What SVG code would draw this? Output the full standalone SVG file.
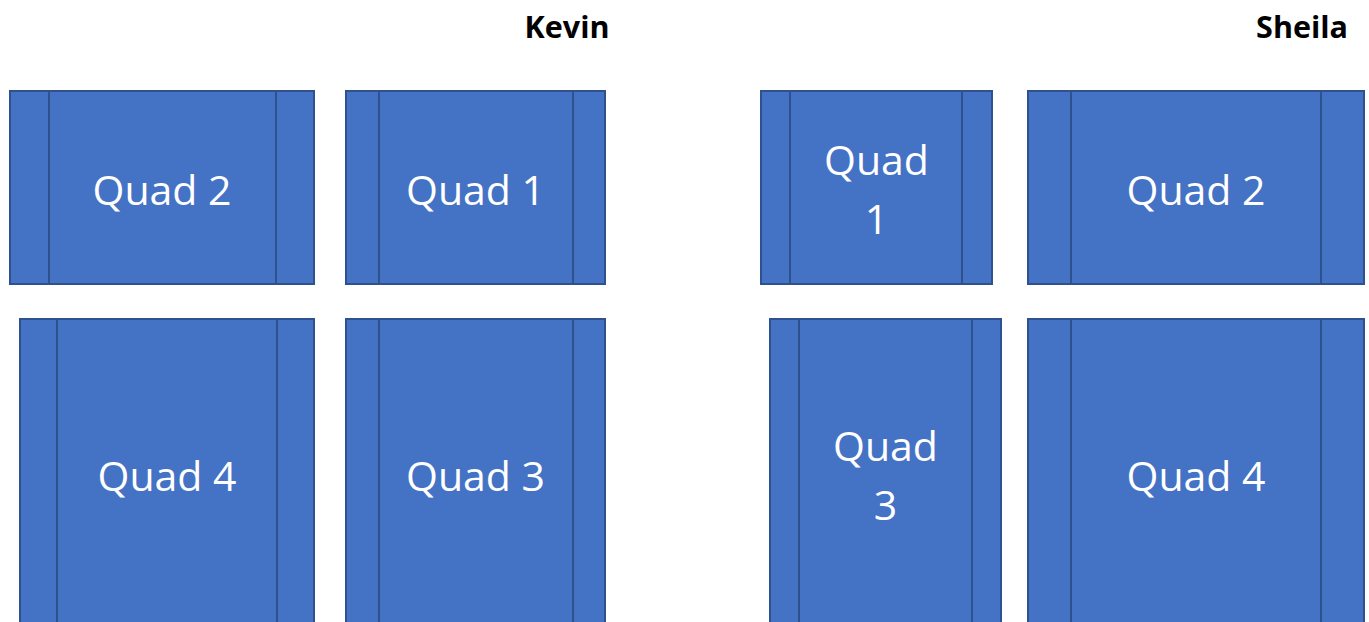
<svg xmlns="http://www.w3.org/2000/svg" width="1369" height="622" viewBox="0 0 1369 622">
<style>
.box{fill:#4472C4;stroke:#2F528F;stroke-width:2}
.div{stroke:#2F528F;stroke-width:2;fill:none}
.lbl{font-family:"Open Sans","Noto Sans",sans-serif;font-size:41px;fill:#FFFFFF;text-anchor:middle}
.name{font-family:"Open Sans","Noto Sans",sans-serif;font-size:30.5px;font-weight:bold;fill:#000000;text-anchor:end}
</style>
<rect width="1369" height="622" fill="#FFFFFF"/>
<g id="title-kevin"><text class="name" x="609.5" y="37.5">Kevin</text></g>
<g id="title-sheila"><text class="name" x="1348" y="37.5">Sheila</text></g>
<g id="kevin-quad2">
<rect class="box" x="10" y="91" width="304" height="193"/>
<line class="div" x1="49" y1="91" x2="49" y2="284"/>
<line class="div" x1="276" y1="91" x2="276" y2="284"/>
<text class="lbl" x="162" y="205">Quad 2</text>
</g>
<g id="kevin-quad1">
<rect class="box" x="346" y="91" width="259" height="193"/>
<line class="div" x1="379" y1="91" x2="379" y2="284"/>
<line class="div" x1="573" y1="91" x2="573" y2="284"/>
<text class="lbl" x="475.5" y="205">Quad 1</text>
</g>
<g id="kevin-quad4">
<rect class="box" x="20" y="319" width="294" height="320"/>
<line class="div" x1="57" y1="319" x2="57" y2="639"/>
<line class="div" x1="277" y1="319" x2="277" y2="639"/>
<text class="lbl" x="167" y="491">Quad 4</text>
</g>
<g id="kevin-quad3">
<rect class="box" x="346" y="319" width="259" height="320"/>
<line class="div" x1="379" y1="319" x2="379" y2="639"/>
<line class="div" x1="573" y1="319" x2="573" y2="639"/>
<text class="lbl" x="475.5" y="491">Quad 3</text>
</g>
<g id="sheila-quad1">
<rect class="box" x="761" y="91" width="231" height="193"/>
<line class="div" x1="790" y1="91" x2="790" y2="284"/>
<line class="div" x1="962" y1="91" x2="962" y2="284"/>
<text class="lbl" x="876.5" y="175">Quad</text>
<text class="lbl" x="876.5" y="234">1</text>
</g>
<g id="sheila-quad2">
<rect class="box" x="1028" y="91" width="336" height="193"/>
<line class="div" x1="1071" y1="91" x2="1071" y2="284"/>
<line class="div" x1="1321" y1="91" x2="1321" y2="284"/>
<text class="lbl" x="1196" y="205">Quad 2</text>
</g>
<g id="sheila-quad3">
<rect class="box" x="770" y="319" width="231" height="320"/>
<line class="div" x1="799" y1="319" x2="799" y2="639"/>
<line class="div" x1="972" y1="319" x2="972" y2="639"/>
<text class="lbl" x="885.5" y="461">Quad</text>
<text class="lbl" x="885.5" y="520">3</text>
</g>
<g id="sheila-quad4">
<rect class="box" x="1028" y="319" width="336" height="320"/>
<line class="div" x1="1071" y1="319" x2="1071" y2="639"/>
<line class="div" x1="1321" y1="319" x2="1321" y2="639"/>
<text class="lbl" x="1196" y="491">Quad 4</text>
</g>
<g id="connectors"></g>
</svg>
